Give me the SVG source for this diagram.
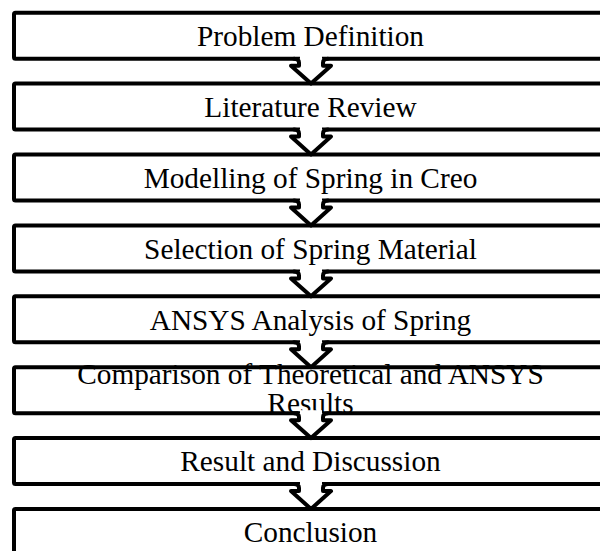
<svg xmlns="http://www.w3.org/2000/svg" width="600" height="551" viewBox="0 0 600 551">
<style>
.box{fill:#fff;stroke:#000;stroke-width:4;stroke-linejoin:round}
.lbl{font-family:"Liberation Serif","Times New Roman",serif;font-size:29.3px;fill:#000;text-anchor:middle}
.arr{fill:#fff;stroke:#000;stroke-width:4;stroke-linejoin:round;stroke-linecap:round}
.gap{fill:#fff;stroke:none}
</style>
<rect width="600" height="551" fill="#fff"/>
<g id="node1"><rect class="box" x="14" y="12.7" width="594" height="46" rx="1.5"/><text class="lbl" x="310.5" y="46">Problem Definition</text></g>
<g id="node2"><rect class="box" x="14" y="83.6" width="594" height="46" rx="1.5"/><text class="lbl" x="310.5" y="116.9">Literature Review</text></g>
<g id="node3"><rect class="box" x="14" y="154.5" width="594" height="46" rx="1.5"/><text class="lbl" x="310.5" y="187.8">Modelling of Spring in Creo</text></g>
<g id="node4"><rect class="box" x="14" y="225.4" width="594" height="46" rx="1.5"/><text class="lbl" x="310.5" y="258.7">Selection of Spring Material</text></g>
<g id="node5"><rect class="box" x="14" y="296.3" width="594" height="46" rx="1.5"/><text class="lbl" x="310.5" y="329.6">ANSYS Analysis of Spring</text></g>
<g id="node6"><rect class="box" x="14" y="367.2" width="594" height="46" rx="1.5"/><text class="lbl" x="310.5" y="384">Comparison of Theoretical and ANSYS</text><text class="lbl" x="310.5" y="413">Results</text></g>
<g id="node7"><rect class="box" x="14" y="438.1" width="594" height="46" rx="1.5"/><text class="lbl" x="310.5" y="471.4">Result and Discussion</text></g>
<g id="node8"><rect class="box" x="14" y="509" width="594" height="46" rx="1.5"/><text class="lbl" x="310.5" y="542.3">Conclusion</text></g>
<g id="connectors">
<rect class="gap" x="300" y="55.7" width="22" height="6"/>
<path class="arr" d="M294,58.7 Q299,58.7 299,62.7 L299,65.7 L291,65.7 L311,83.6 L331,65.7 L323,65.7 L323,62.7 Q323,58.7 328,58.7"/>
<rect class="gap" x="300" y="126.6" width="22" height="6"/>
<path class="arr" d="M294,129.6 Q299,129.6 299,133.6 L299,136.6 L291,136.6 L311,154.5 L331,136.6 L323,136.6 L323,133.6 Q323,129.6 328,129.6"/>
<rect class="gap" x="300" y="197.5" width="22" height="6"/>
<path class="arr" d="M294,200.5 Q299,200.5 299,204.5 L299,207.5 L291,207.5 L311,225.4 L331,207.5 L323,207.5 L323,204.5 Q323,200.5 328,200.5"/>
<rect class="gap" x="300" y="268.4" width="22" height="6"/>
<path class="arr" d="M294,271.4 Q299,271.4 299,275.4 L299,278.4 L291,278.4 L311,296.3 L331,278.4 L323,278.4 L323,275.4 Q323,271.4 328,271.4"/>
<rect class="gap" x="300" y="339.3" width="22" height="6"/>
<path class="arr" d="M294,342.3 Q299,342.3 299,346.3 L299,349.3 L291,349.3 L311,367.2 L331,349.3 L323,349.3 L323,346.3 Q323,342.3 328,342.3"/>
<rect class="gap" x="300" y="410.2" width="22" height="6"/>
<path class="arr" d="M294,413.2 Q299,413.2 299,417.2 L299,420.2 L291,420.2 L311,438.1 L331,420.2 L323,420.2 L323,417.2 Q323,413.2 328,413.2"/>
<rect class="gap" x="300" y="481.1" width="22" height="6"/>
<path class="arr" d="M294,484.1 Q299,484.1 299,488.1 L299,491.1 L291,491.1 L311,509 L331,491.1 L323,491.1 L323,488.1 Q323,484.1 328,484.1"/>
</g>
</svg>
